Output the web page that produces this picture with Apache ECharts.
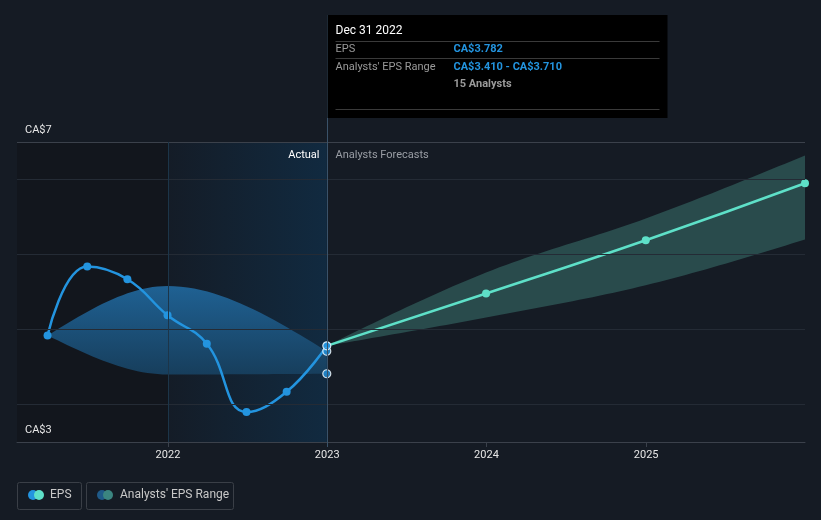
<!DOCTYPE html>
<html>
<head>
<meta charset="utf-8">
<script src="https://cdn.jsdelivr.net/npm/echarts@6/dist/echarts.min.js"></script>
<style>
html,body{margin:0;padding:0;background:#151b24;}
#chart{width:821px;height:520px;}
</style>
</head>
<body>
<div id="chart"></div>
<script>
// ---- data ----
const epsDates = ['2021-03-31','2021-06-30','2021-09-30','2021-12-31','2022-03-31','2022-06-30','2022-09-30','2022-12-31'];
const epsValues = [3.92, 4.84, 4.67, 4.19, 3.81, 2.90, 3.17, 3.782];
const pastRangeDates = ['2021-03-31','2021-12-31','2022-12-31'];
const pastRangeLow = [3.92, 3.40, 3.41];
const pastRangeHigh = [3.92, 4.58, 3.71];
const forecastDates = ['2022-12-31','2023-12-31','2024-12-31','2025-12-31'];
const forecastValues = [3.782, 4.48, 5.19, 5.95];
const forecastLow = [3.782, 4.16, 4.59, 5.20];
const forecastHigh = [3.782, 4.76, 5.48, 6.32];
const analystCount = 15;
const xTickYears = [2022, 2023, 2024, 2025];
const yTickValues = [2.5, 6.5];
const yTickLabels = ['CA$3', 'CA$7'];
const gridValues = [3, 4, 5, 6];
const xMin = '2021-01-20';
const xMax = '2025-12-31';
const actualStart = '2022-01-01';
const lastActual = '2022-12-31';

// ---- helpers ----
const FONT = 'Roboto, "Noto Sans", sans-serif';
const BLUE = '#2394df';
const TEAL = '#5ee0c8';
const ts = s => { const [y, m, d] = s.split('-').map(Number); return Date.UTC(y, m - 1, d); };
const pair = (d, v) => d.map((x, i) => [ts(x), v[i]]);
const yearTicks = xTickYears.map(y => Date.UTC(y, 0, 1));
const lastEps = epsValues[epsValues.length - 1];
const lastLow = pastRangeLow[pastRangeLow.length - 1];
const lastHigh = pastRangeHigh[pastRangeHigh.length - 1];

// monotone-x cubic sampling of pixel points
function monotoneSample(pts, steps) {
  const n = pts.length;
  if (n < 2) return pts.slice();
  const s = [];
  for (let i = 0; i < n - 1; i++) s.push((pts[i + 1][1] - pts[i][1]) / (pts[i + 1][0] - pts[i][0]));
  const t = new Array(n);
  for (let i = 1; i < n - 1; i++) {
    const h0 = pts[i][0] - pts[i - 1][0], h1 = pts[i + 1][0] - pts[i][0];
    const s0 = s[i - 1], s1 = s[i];
    const p = (s0 * h1 + s1 * h0) / (h0 + h1);
    t[i] = (Math.sign(s0) + Math.sign(s1)) * Math.min(Math.abs(s0), Math.abs(s1), 0.5 * Math.abs(p)) || 0;
  }
  if (n === 2) { t[0] = s[0]; t[1] = s[0]; }
  else {
    t[0] = (3 * s[0] - t[1]) / 2;
    t[n - 1] = (3 * s[n - 2] - t[n - 2]) / 2;
  }
  const out = [pts[0]];
  for (let i = 0; i < n - 1; i++) {
    const [x0, y0] = pts[i], [x1, y1] = pts[i + 1];
    const dx = (x1 - x0) / 3;
    const c1 = [x0 + dx, y0 + dx * t[i]], c2 = [x1 - dx, y1 - dx * t[i + 1]];
    for (let k = 1; k <= steps; k++) {
      const u = k / steps, v = 1 - u;
      out.push([
        v * v * v * x0 + 3 * v * v * u * c1[0] + 3 * v * u * u * c2[0] + u * u * u * x1,
        v * v * v * y0 + 3 * v * v * u * c1[1] + 3 * v * u * u * c2[1] + u * u * u * y1
      ]);
    }
  }
  return out;
}
function bandSeries(dates, lo, hi, fill) {
  return {
    type: 'custom', coordinateSystem: 'cartesian2d', z: 2, silent: true,
    data: dates.map((d, i) => [ts(d), lo[i], hi[i]]),
    encode: { x: 0, y: [1, 2] },
    renderItem: (params, api) => {
      if (params.dataIndex !== 0) return null;
      const top = monotoneSample(dates.map((d, i) => api.coord([ts(d), hi[i]])), 24);
      const bot = monotoneSample(dates.map((d, i) => api.coord([ts(d), lo[i]])), 24);
      return { type: 'polygon', shape: { points: top.concat(bot.reverse()) }, style: { fill } };
    }
  };
}

const chart = echarts.init(document.getElementById('chart'));

const option = {
  backgroundColor: '#151b24',
  animation: false,
  textStyle: { fontFamily: FONT },
  grid: { left: 17, right: 16, top: 142, bottom: 78 },
  xAxis: {
    type: 'value',
    min: ts(xMin),
    max: ts(xMax),
    axisLine: { show: true, onZero: false, lineStyle: { color: '#3b414b', width: 1 } },
    axisTick: { show: true, customValues: yearTicks, length: 5, lineStyle: { color: '#3b414b' } },
    axisLabel: {
      customValues: yearTicks,
      formatter: v => String(new Date(v).getUTCFullYear()),
      color: '#e6e6e6', fontSize: 11, fontFamily: FONT, margin: 8
    },
    splitLine: { show: false }
  },
  yAxis: {
    type: 'value',
    min: 2.5,
    max: 6.5,
    axisLine: { show: false },
    axisTick: { show: false },
    splitLine: { show: false },
    axisLabel: { show: false }
  },
  series: [
    {
      type: 'line', data: [], z: 0, silent: true,
      markArea: {
        silent: true,
        data: [
          [{ xAxis: ts(xMin), itemStyle: { color: '#12161d' } }, { xAxis: ts(actualStart) }],
          [{ xAxis: ts(actualStart), itemStyle: { color: {
            type: 'linear', x: 0, y: 0, x2: 1, y2: 0,
            colorStops: [{ offset: 0, color: '#141c27' }, { offset: 1, color: '#112a40' }]
          } } }, { xAxis: ts(lastActual) }]
        ]
      }
    },
    {
      type: 'line', data: [], z: 1, silent: true,
      markLine: {
        silent: true, symbol: 'none', label: { show: false },
        data: gridValues.map(v => ({ yAxis: v, lineStyle: { color: '#242b35', width: 1, type: 'solid' } }))
          .concat([{ yAxis: 6.5, lineStyle: { color: '#3b414b', width: 1, type: 'solid' } }])
          .concat([{ xAxis: ts(actualStart), lineStyle: { color: '#1c3549', width: 1, type: 'solid' } }])
      }
    },
    bandSeries(pastRangeDates, pastRangeLow, pastRangeHigh, {
      type: 'linear', x: 0, y: 0, x2: 0, y2: 1,
      colorStops: [{ offset: 0, color: '#1f6193' }, { offset: 1, color: '#173e5c' }]
    }),
    bandSeries(forecastDates, forecastLow, forecastHigh, '#294b4c'),
    {
      name: 'EPS', type: 'line', z: 3,
      data: pair(epsDates, epsValues), smooth: 0.45,
      symbol: 'circle', symbolSize: 8, showSymbol: true,
      lineStyle: { color: BLUE, width: 2.5 }, itemStyle: { color: BLUE }
    },
    {
      name: 'Forecast', type: 'line', z: 3,
      data: pair(forecastDates, forecastValues).map((p, i) => i === 0 ? { value: p, symbol: 'none' } : p),
      smooth: 0.5, symbol: 'circle', symbolSize: 8, clip: false,
      lineStyle: { color: TEAL, width: 2.5 }, itemStyle: { color: TEAL }
    },
    {
      name: 'hover', type: 'scatter', z: 5,
      data: [[ts(lastActual), lastHigh], [ts(lastActual), lastLow], [ts(lastActual), lastEps]],
      symbolSize: 8,
      itemStyle: { color: BLUE, borderColor: '#ffffff', borderWidth: 1.2 }
    }
  ]
};
chart.setOption(option);

// overlay: crosshair, tooltip, labels, legend
const cx = Math.round(chart.convertToPixel({ xAxisIndex: 0 }, ts(lastActual))) + 0.5;
const fmt = v => 'CA$' + v.toFixed(3);
const tipX = cx;
const tipW = 340;
const g = [];
const t = (x, y, text, color, weight, size, align) => ({
  type: 'text', z: 21, x, y,
  style: { text, fill: color, font: (weight || 'normal') + ' ' + (size || 11) + 'px ' + FONT, verticalAlign: 'middle', align: align || 'left' }
});
yTickValues.forEach((v, i) => {
  const py = chart.convertToPixel({ yAxisIndex: 0 }, v);
  g.push(t(25, py - 12, yTickLabels[i], '#e6e6e6', 'normal', 11));
});
g.push({ type: 'line', z: 10, shape: { x1: cx, y1: 15, x2: cx, y2: 447 }, style: { stroke: '#3a5269', lineWidth: 1 } });
g.push({ type: 'rect', z: 20, shape: { x: tipX, y: 15, width: tipW, height: 103 }, style: { fill: '#000000' } });
g.push(t(tipX + 8, 31, 'Dec 31 2022', '#ffffff', 'normal', 12));
g.push(t(tipX + 8, 49, 'EPS', '#9a9a9a', 'normal', 11));
g.push(t(tipX + 126, 49, fmt(lastEps), BLUE, 'bold', 11));
g.push(t(tipX + 8, 67, "Analysts' EPS Range", '#9a9a9a', 'normal', 11));
g.push(t(tipX + 126, 67, fmt(lastLow) + ' - ' + fmt(lastHigh), BLUE, 'bold', 11));
g.push(t(tipX + 126, 84, analystCount + ' Analysts', '#9a9a9a', 'bold', 11));
[41, 58, 109].forEach(y => g.push({ type: 'line', z: 21, shape: { x1: tipX + 8, y1: y + 0.5, x2: tipX + 332, y2: y + 0.5 }, style: { stroke: '#3a3a3a', lineWidth: 1 } }));
g.push(t(cx - 8, 155, 'Actual', '#ffffff', 'normal', 11, 'right'));
g.push(t(cx + 8, 155, 'Analysts Forecasts', '#9a9ea5', 'normal', 11, 'left'));
g.push({ type: 'rect', z: 20, shape: { x: 17.5, y: 482.5, width: 64, height: 27, r: 2 }, style: { fill: 'none', stroke: '#3a3f47', lineWidth: 1 } });
g.push({ type: 'circle', z: 21, shape: { cx: 33, cy: 495, r: 5 }, style: { fill: BLUE } });
g.push({ type: 'circle', z: 22, shape: { cx: 39, cy: 495, r: 5 }, style: { fill: TEAL } });
g.push(t(50, 495, 'EPS', '#c8c8c8', 'normal', 12));
g.push({ type: 'rect', z: 20, shape: { x: 86.5, y: 482.5, width: 147, height: 27, r: 2 }, style: { fill: 'none', stroke: '#3a3f47', lineWidth: 1 } });
g.push({ type: 'circle', z: 21, shape: { cx: 102, cy: 495, r: 5 }, style: { fill: '#1f5a88' } });
g.push({ type: 'circle', z: 22, shape: { cx: 108, cy: 495, r: 5 }, style: { fill: '#3b8580' } });
g.push(t(120, 495, "Analysts' EPS Range", '#c8c8c8', 'normal', 12));
chart.setOption({ graphic: g });
</script>
</body>
</html>
